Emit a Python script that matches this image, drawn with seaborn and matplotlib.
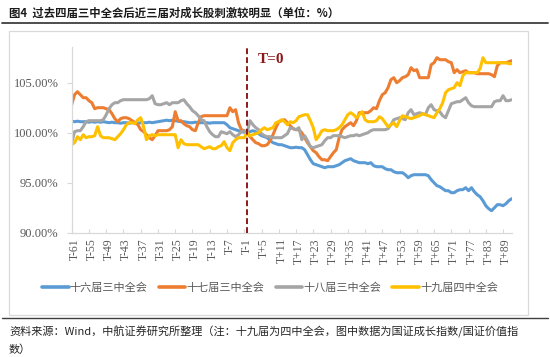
import numpy as np
import pandas as pd
import matplotlib
matplotlib.use("Agg")
import matplotlib.pyplot as plt
import matplotlib.transforms as mtransforms
from matplotlib.patches import Rectangle
from matplotlib.lines import Line2D
import seaborn as sns

# ---------------- data ----------------
categories = [f"T-{n}" for n in range(61, 0, -1)] + ["T0"] + [f"T+{n}" for n in range(1, 93)]
shown_ticks = ["T-61", "T-55", "T-49", "T-43", "T-37", "T-31", "T-25", "T-19", "T-13", "T-7",
               "T-1", "T+5", "T+11", "T+17", "T+23", "T+29", "T+35", "T+41", "T+47", "T+53",
               "T+59", "T+65", "T+71", "T+77", "T+83", "T+89"]
series_names = ["十六届三中全会", "十七届三中全会", "十八届三中全会", "十九届四中全会"]

s16 = [101.15, 101.1, 101.15, 101.1, 101.1, 101.1, 101.05, 101.1, 101.05, 101.1,
       101.05, 101.1, 101.05, 101.0, 101.05, 101.0, 101.0, 100.95, 101.0, 101.0,
       100.95, 101.0, 101.0, 100.95, 101.0, 101.0, 101.0, 101.05, 101.0, 101.05,
       101.1, 101.15, 101.2, 101.25, 101.2, 101.25, 101.2, 101.15, 101.1, 101.1,
       101.05, 101.0, 101.0, 101.05, 101.0, 101.0, 101.0, 101.0, 100.95, 101.0,
       101.0, 101.0, 101.0, 101.0, 100.8, 100.5, 100.4, 100.3, 100.2, 100.1,
       100.05, 100.0,
       100.1, 100.2, 100.1, 99.9, 99.7, 99.6, 99.5, 99.2,
       99.0, 98.9, 98.8, 98.8, 98.7, 98.6, 98.5, 98.5, 98.55, 98.5,
       98.5, 98.3, 97.8, 97.3, 96.9, 96.8, 96.7, 96.6, 96.5, 96.6,
       96.6, 96.6, 96.7, 96.8, 97.0, 97.2, 97.3, 97.4, 97.2, 97.1,
       97.0, 97.0, 97.0, 96.9, 97.0, 96.7, 96.6, 96.6, 96.6, 96.4,
       96.3, 96.3, 96.1, 96.0, 96.0, 96.0, 95.8, 95.5, 95.7, 95.8,
       95.8, 95.8, 95.8, 95.8, 95.7, 95.3, 95.0, 94.7, 94.6, 94.4,
       94.2, 94.2, 94.0, 94.0, 94.2, 94.3, 94.3, 94.5, 94.2, 94.5,
       94.1, 93.8, 93.6, 93.2, 92.7, 92.4, 92.2, 92.5, 92.8, 92.8,
       92.7, 92.9, 93.2, 93.4]

s17 = [102.8, 103.8, 104.1, 103.8, 103.5, 103.5, 103.2, 103.0, 102.4, 102.5,
       102.5, 102.5, 102.4, 102.3, 101.9, 101.4, 101.1, 101.4, 101.5, 101.5,
       101.4, 101.2, 101.0, 100.8, 100.3, 100.1, 99.8, 99.5, 99.3, 99.7,
       100.2, 100.2, 100.2, 100.2, 100.3, 100.6, 102.1, 101.2, 101.2, 100.9,
       100.7, 100.6, 100.3, 100.2, 101.0, 101.6, 101.7, 101.7, 101.7, 101.7,
       101.7, 101.7, 101.7, 101.7, 101.7, 102.5, 102.1, 102.3, 101.0, 100.3,
       100.2, 100.0,
       99.6, 99.3, 99.0, 98.9, 98.7, 98.7, 98.8, 99.2,
       99.8, 100.5, 101.1, 101.2, 101.3, 101.0, 100.7, 100.4, 100.3, 100.3,
       100.0, 99.5, 99.0, 98.6, 98.2, 98.0, 97.6, 97.3, 97.3, 97.2,
       97.6, 98.0, 98.3, 99.5, 100.3, 100.6, 100.8, 101.0, 100.7, 101.2,
       102.0, 102.0, 102.0, 102.0, 102.2, 102.5, 102.4, 103.2, 103.8, 104.0,
       104.5, 105.3, 105.5, 105.0, 105.2, 105.5, 105.6, 105.8, 106.5, 106.2,
       106.3, 105.5, 105.5, 105.5, 105.5, 106.8, 107.0, 107.5, 107.3, 107.3,
       107.3, 107.1, 107.0, 106.0, 106.3, 106.0, 106.1, 106.2, 106.0, 106.0,
       106.0, 105.9, 105.9, 105.9, 105.9, 105.9, 105.8, 105.6, 106.7, 107.0,
       107.0, 107.0, 107.1, 107.2]

s18 = [99.0, 100.1, 100.2, 100.2, 100.6, 101.1, 101.2, 101.2, 101.2, 101.2,
       101.2, 101.3, 101.8, 102.4, 102.8, 103.0, 103.0, 103.2, 103.3, 103.3,
       103.3, 103.3, 103.3, 103.3, 103.3, 103.3, 103.3, 103.4, 103.7, 102.9,
       102.8, 102.8, 102.9, 103.0, 102.8, 103.0, 103.0, 103.0, 103.2, 103.3,
       102.9, 102.6, 102.2, 102.0, 101.7, 101.3, 101.2, 100.6, 100.1, 99.8,
       99.6, 99.6, 100.1, 100.0, 99.9, 100.1, 99.8, 99.6, 99.8, 100.1,
       100.2, 100.0,
       101.2, 100.8, 100.5, 100.3, 99.9, 99.7, 99.6, 99.6,
       99.5, 99.5, 99.5, 99.5, 99.7, 99.9, 100.5, 100.4, 100.3, 100.5,
       99.3, 99.7, 99.2, 98.6, 98.5, 98.6, 98.7, 98.8, 99.2, 99.5,
       99.5, 99.7, 99.7, 99.7, 99.6, 99.5, 99.6, 99.7, 99.7, 99.8,
       99.7, 99.8, 99.9, 100.0, 100.2, 100.3, 100.3, 100.3, 100.3, 100.3,
       100.4, 100.8, 101.3, 101.4, 101.5, 101.4, 101.3, 102.0, 102.3, 101.8,
       101.9, 102.0, 101.9, 101.8, 102.5, 102.8, 102.3, 102.2, 102.1, 101.7,
       101.5, 102.2, 102.9, 103.0, 103.1, 103.1, 103.3, 103.5, 103.0, 102.7,
       102.6, 102.6, 102.6, 102.6, 102.6, 102.6, 102.6, 103.1, 103.2, 103.2,
       103.7, 103.2, 103.2, 103.3]

s19 = [98.8, 99.0, 99.6, 99.3, 99.8, 99.5, 99.6, 99.6, 99.7, 100.6,
       99.7, 99.5, 99.5, 99.5, 99.4, 99.3, 99.6, 99.9, 100.3, 100.8,
       101.0, 101.0, 100.9, 101.3, 101.5, 100.6, 99.3, 99.7, 99.8, 99.7,
       99.8, 99.8, 99.8, 99.8, 99.8, 99.8, 99.8, 98.5, 99.3, 98.9,
       98.8, 98.8, 98.8, 98.8, 98.8, 98.6, 98.4, 98.5, 98.6, 98.4,
       98.4, 98.6, 98.7, 99.1, 98.5, 98.2, 99.0, 99.3, 99.5, 99.5,
       99.5, 100.0,
       99.7, 99.8, 99.9, 100.0, 100.3, 100.5, 100.3, 100.4,
       100.5, 101.0, 101.1, 101.3, 101.1, 100.8, 101.1, 101.0, 101.2, 101.6,
       101.7, 101.8, 101.8, 101.2, 100.5, 99.3, 99.7, 100.2, 100.3, 100.2,
       100.2, 100.2, 100.3, 100.5, 100.8, 101.3, 101.8, 102.0, 101.8, 101.5,
       101.8, 102.1, 101.3, 101.1, 101.1, 101.1, 101.2, 101.6, 101.4, 101.0,
       100.6, 100.8, 101.0, 100.6, 101.2, 101.7, 101.6, 101.5, 101.4, 101.5,
       101.6, 101.7, 101.9, 101.8, 101.7, 101.6, 101.5, 102.0, 102.4, 103.0,
       104.0, 104.3, 104.4, 104.5, 105.0, 104.7, 105.7, 106.0, 106.0, 106.0,
       106.0, 106.0, 106.4, 107.5, 107.0, 107.0, 107.0, 107.0, 107.0, 107.0,
       107.0, 107.0, 106.9, 106.9]

colors = ["#5B9BD5", "#ED7D31", "#A5A5A5", "#FFC000"]
y_ticks = [90, 95, 100, 105]

# ---------------- build frame ----------------
rows = []
for name, vals in zip(series_names, [s16, s17, s18, s19]):
    assert len(vals) == len(categories), (name, len(vals))
    for i, v in enumerate(vals):
        rows.append({"pos": i, "cat": categories[i], "series": name, "value": v})
df = pd.DataFrame(rows)

sns.set_theme(style="white")
plt.rcParams["font.family"] = ["Noto Sans CJK SC", "DejaVu Sans"]

W, H = 550, 357
fig = plt.figure(figsize=(W / 100, H / 100), dpi=100)
left, right, bottom, top = 71.7, 511.7, 232.7, 47.0
ax = fig.add_axes([left / W, 1 - bottom / H, (right - left) / W, (bottom - top) / H])

sns.lineplot(data=df, x="pos", y="value", hue="series", hue_order=series_names,
             palette=colors, linewidth=2.2, ax=ax, legend=False)

t0 = categories.index("T0")
ax.set_xlim(0, len(categories) - 1)
ax.set_ylim(90, 90 + (bottom - top) / 10.0)

# vertical T=0 marker
ax.axvline(t0, color="#8B1A1A", lw=1.4, linestyle=(0, (3, 1.6)), zorder=5)
ax.text(t0 + 3.7, 107.3, "T=0", color="#8B1A1A", fontsize=11, fontweight="bold",
        family=["Liberation Serif"], va="center", ha="left")

# axes styling
for s in ["top", "right"]:
    ax.spines[s].set_visible(False)
for s in ["left", "bottom"]:
    ax.spines[s].set_color("#D9D9D9")
    ax.spines[s].set_linewidth(0.9)

ax.set_yticks(y_ticks)
ax.set_yticklabels([f"{v:.2f}%" for v in y_ticks], family=["Liberation Serif"],
                   fontsize=9, color="#595959")
ax.tick_params(axis="y", length=3.5, width=0.8, color="#D9D9D9", pad=6, left=True)

tick_pos = [categories.index(t) for t in shown_ticks]
ax.set_xticks(tick_pos)
ax.set_xticklabels(shown_ticks, rotation=90, family=["Liberation Serif"],
                   fontsize=8.5, color="#595959")
ax.tick_params(axis="x", length=3, width=0.8, color="#D9D9D9", direction="in",
               pad=4, bottom=True)
offset = mtransforms.ScaledTranslation(2 / 72, 0, fig.dpi_scale_trans)
for lbl in ax.get_xticklabels():
    lbl.set_transform(lbl.get_transform() + offset)
ax.set_xlabel("")
ax.set_ylabel("")
ax.grid(False)

# legend
handles = [Line2D([0], [0], color=c, lw=2.6) for c in colors]
fig.legend(handles, series_names, loc="center", bbox_to_anchor=(270 / W, 1 - 288 / H),
           ncol=4, frameon=False, fontsize=8, handlelength=2.4, handletextpad=0.1,
           columnspacing=1.0, labelcolor="#595959")

# frame and separator lines
fig.add_artist(Rectangle((9 / W, 1 - 314.6 / H), (528 - 9) / W, (314.6 - 31) / H,
                         transform=fig.transFigure, fill=False,
                         edgecolor="#D9D9D9", lw=0.9))
fig.add_artist(Line2D([2 / W, 548 / W], [1 - 23 / H] * 2, transform=fig.transFigure,
                      color="#3F3F3F", lw=1.3))
fig.add_artist(Line2D([2 / W, 548 / W], [1 - 318 / H] * 2, transform=fig.transFigure,
                      color="#3F3F3F", lw=1.0))

# title and source
fig.text(9 / W, 1 - 13.5 / H, "图4  过去四届三中全会后近三届对成长股刺激较明显（单位：%）",
         fontsize=8.2, fontweight="bold", color="#1A1A1A", va="center", ha="left")
fig.text(9 / W, 1 - 332 / H,
         "资料来源：Wind，中航证券研究所整理（注：十九届为四中全会，图中数据为国证成长指数/国证价值指",
         fontsize=8, color="#262626", va="center", ha="left")
fig.text(9 / W, 1 - 350 / H, "数）", fontsize=8, color="#262626", va="center", ha="left")

fig.savefig("out.png", dpi=100)
